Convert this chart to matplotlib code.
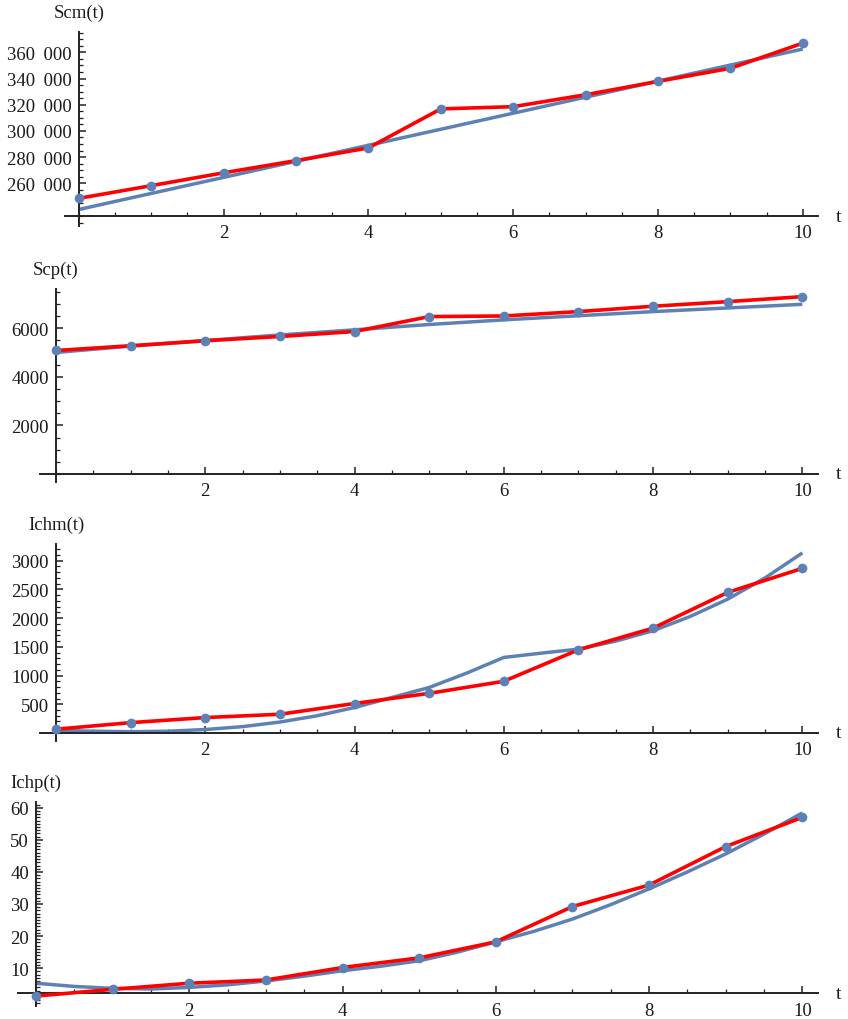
import matplotlib
matplotlib.use("Agg")
import matplotlib.pyplot as plt
from matplotlib.ticker import FixedLocator, FuncFormatter

# ---------------- data ----------------
t = [0, 1, 2, 3, 4, 5, 6, 7, 8, 9, 10]

scm_obs = [248500, 258200, 268000, 277300, 287000, 316800, 318500, 327600, 337800, 347800, 367000]
scm_fit_t = [0, 2, 4, 6, 8, 10]
scm_fit = [240000, 264500, 289000, 313500, 338000, 362500]

scp_obs = [5080, 5275, 5480, 5656, 5860, 6475, 6500, 6680, 6900, 7090, 7295]
scp_fit_t = [0, 1, 2, 3, 4, 5, 6, 7, 8, 9, 10]
scp_fit = [5000, 5260, 5490, 5720, 5930, 6150, 6340, 6510, 6680, 6830, 6980]

ichm_obs = [65, 180, 268, 326, 513, 690, 900, 1448, 1826, 2448, 2867]
ichm_fit_t = [0, 0.5, 1, 1.5, 2, 2.5, 3, 3.5, 4, 4.5, 5, 5.5, 6,
              6.5, 7, 7.5, 8, 8.5, 9, 9.5, 10]
ichm_fit = [45, 30, 22, 30, 60, 110, 190, 300, 443, 617, 792, 1041, 1315,
            1390, 1460, 1600, 1780, 2030, 2330, 2700, 3135]

ichp_obs = [1.3, 3.4, 5.3, 6.3, 10.2, 13.2, 18.2, 29.2, 35.9, 47.9, 57.0]
ichp_fit_t = [0, 0.5, 1, 1.5, 2, 2.5, 3, 3.5, 4, 4.5, 5, 5.5, 6,
              6.5, 7, 7.5, 8, 8.5, 9, 9.5, 10]
ichp_fit = [5.3, 4.3, 3.7, 3.5, 4.0, 4.8, 6.0, 7.5, 9.2, 10.6, 12.3, 15.0, 18.2,
            21.5, 25.3, 29.8, 34.7, 40.0, 45.6, 51.8, 58.4]

labels = ["Scm(t)", "Scp(t)", "Ichm(t)", "Ichp(t)"]
x_major = [2, 4, 6, 8, 10]

# ---------------- style ----------------
RED = "#ff0000"
BLUE = "#5e81b5"
AX = "#222222"
plt.rcParams["font.family"] = ["Liberation Serif", "DejaVu Serif"]

W, H = 848, 1020
fig = plt.figure(figsize=(W / 100, H / 100), dpi=100)


def fmt(v, pos):
    s = str(int(round(v)))
    if len(s) > 4:
        d = s
        groups = []
        while d:
            groups.insert(0, d[-3:])
            d = d[:-3]
        s = " \u2009".join(groups)
    return s


panels = [
    dict(box=(65, 33, 818, 227), xlim=(-0.19, 10.21), ylim=(227400, 375500), y0=235000,
         ymaj=[260000, 280000, 300000, 320000, 340000, 360000],
         ymin=[v for v in range(230000, 375001, 5000)],
         obs=scm_obs, ft=scm_fit_t, fv=scm_fit),
    dict(box=(40, 290, 818, 483), xlim=(-0.214, 10.21), ylim=(-330, 7610), y0=0,
         ymaj=[2000, 4000, 6000],
         ymin=[v for v in range(0, 7501, 500)],
         obs=scp_obs, ft=scp_fit_t, fv=scp_fit),
    dict(box=(40, 545, 818, 742), xlim=(-0.214, 10.21), ylim=(-140, 3291), y0=0,
         ymaj=[500, 1000, 1500, 2000, 2500, 3000],
         ymin=[v for v in range(0, 3201, 100)],
         obs=ichm_obs, ft=ichm_fit_t, fv=ichm_fit),
    dict(box=(18, 803, 818, 1007), xlim=(-0.235, 10.205), ylim=(-1.8, 61.8), y0=2.1,
         ymaj=[10, 20, 30, 40, 50, 60],
         ymin=[v for v in range(-1, 62, 1)],
         obs=ichp_obs, ft=ichp_fit_t, fv=ichp_fit),
]

x_minor = [i * 0.5 for i in range(0, 21)]

for p, lab in zip(panels, labels):
    l, tp, r, b = p["box"]
    ax = fig.add_axes([l / W, 1 - b / H, (r - l) / W, (b - tp) / H])
    ax.set_xlim(*p["xlim"])
    ax.set_ylim(*p["ylim"])
    ax.patch.set_alpha(0)

    ax.plot(p["ft"], p["fv"], color=BLUE, lw=2.5, solid_capstyle="butt", zorder=2)
    ax.plot(t, p["obs"], color=RED, lw=2.6, zorder=3)
    ax.plot(t, p["obs"], "o", color=BLUE, ms=7, mew=0, zorder=4)

    for s in ("top", "right"):
        ax.spines[s].set_visible(False)
    ax.spines["left"].set_position(("data", 0))
    ax.spines["bottom"].set_position(("data", p["y0"]))
    for s in ("left", "bottom"):
        ax.spines[s].set_color(AX)
        ax.spines[s].set_linewidth(1.4)

    ax.xaxis.set_major_locator(FixedLocator(x_major))
    ax.xaxis.set_minor_locator(FixedLocator([v for v in x_minor if v not in x_major]))
    ax.yaxis.set_major_locator(FixedLocator(p["ymaj"]))
    ax.yaxis.set_minor_locator(FixedLocator([v for v in p["ymin"] if v not in p["ymaj"]]))
    ax.yaxis.set_major_formatter(FuncFormatter(fmt))
    ax.xaxis.set_major_formatter(FuncFormatter(lambda v, pos: f"{int(v)}"))

    ax.tick_params(axis="both", which="major", direction="in", length=5, width=1.1,
                   color=AX, labelsize=13.5, labelcolor="#1a1a1a")
    ax.tick_params(axis="both", which="minor", direction="in", length=3, width=0.9,
                   color=AX)
    ax.tick_params(axis="x", which="major", pad=6)
    ax.tick_params(axis="y", which="major", pad=5)

    ax.annotate(lab, xy=(0, 1), xycoords=("data", "axes fraction"),
                xytext=(0, 14.5), textcoords="offset points",
                ha="center", va="center", fontsize=13.5, color="#1a1a1a")
    ax.annotate("t", xy=(1, p["y0"]), xycoords=("axes fraction", "data"),
                xytext=(15, 0), textcoords="offset points",
                ha="center", va="center", fontsize=14, color="#1a1a1a")

fig.savefig("out.png", dpi=100)
